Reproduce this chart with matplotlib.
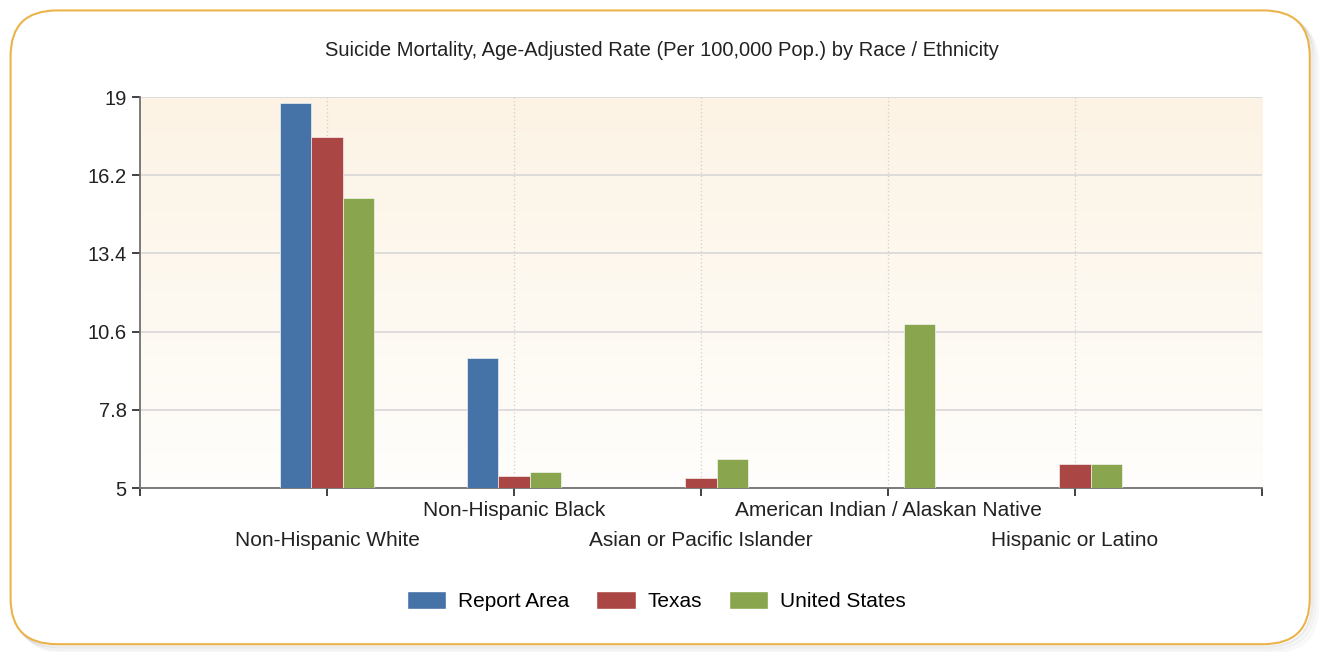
import numpy as np
import matplotlib.pyplot as plt
from matplotlib.patches import FancyBboxPatch, Patch

plt.rcParams['font.family'] = ['Liberation Sans', 'DejaVu Sans']

categories = ['Non-Hispanic White', 'Non-Hispanic Black', 'Asian or Pacific Islander',
              'American Indian / Alaskan Native', 'Hispanic or Latino']
report_area = [18.79, 9.66, np.nan, np.nan, np.nan]
texas = [17.57, 5.43, 5.36, np.nan, 5.86]
united_states = [15.38, 5.57, 6.04, 10.87, 5.86]
series_names = ['Report Area', 'Texas', 'United States']
colors = ['#4572A7', '#AA4643', '#89A54E']
yticks = [5, 7.8, 10.6, 13.4, 16.2, 19]

fig = plt.figure(figsize=(13.23, 6.52), dpi=100)
fig.patch.set_facecolor('white')

# rounded frame with a soft shadow
for i, a in enumerate([0.10, 0.07, 0.04]):
    d = 0.002 * (i + 1)
    fig.patches.append(FancyBboxPatch((0.008 + d, 0.012 - d * 2), 0.982, 0.972,
                                      boxstyle='round,pad=0,rounding_size=0.035',
                                      transform=fig.transFigure, facecolor='none',
                                      edgecolor=(0.3, 0.3, 0.3, a), lw=2, zorder=0,
                                      mutation_aspect=2.0))
fig.patches.append(FancyBboxPatch((0.008, 0.012), 0.982, 0.972,
                                  boxstyle='round,pad=0,rounding_size=0.035',
                                  transform=fig.transFigure, facecolor='white',
                                  edgecolor='#EBB34A', lw=1.5, zorder=1,
                                  mutation_aspect=2.0))

ax = fig.add_axes([0.1058, 0.2515, 0.8481, 0.5997])
ax.set_zorder(2)

# background gradient: cream at top, near white at bottom
grad = np.linspace(0, 1, 256)[:, None, None]
top = np.array([252, 243, 228]) / 255
bot = np.array([255, 254, 252]) / 255
cols = bot * (1 - grad) + top * grad
ax.imshow(cols, extent=[0, 6, 5, 19], origin='lower', aspect='auto', zorder=0)
ax.set_xlim(0, 6)
ax.set_ylim(5, 19)

x = np.arange(1, len(categories) + 1)
w = 0.166
for k, (vals, name, c) in enumerate(zip([report_area, texas, united_states], series_names, colors)):
    ax.bar(x + (k - 1) * w, np.array(vals) - 5, width=w, bottom=5, color=c,
           edgecolor='white', linewidth=0.4, zorder=3, label=name)

for y in yticks[1:]:
    ax.axhline(y, color='#D8D8D8', lw=1.2, zorder=1)
for xv in list(x) + [6]:
    ax.axvline(xv, color='#CFCFCF', lw=0.9, ls=(0, (1, 2)), zorder=1)

for s in ['top', 'right']:
    ax.spines[s].set_visible(False)
ax.spines['left'].set_color('#707070')
ax.spines['bottom'].set_color('#707070')
ax.spines['left'].set_linewidth(1.3)
ax.spines['bottom'].set_linewidth(1.3)

ax.set_yticks(yticks)
ax.set_yticklabels(['5', '7.8', '10.6', '13.4', '16.2', '19'], fontsize=14.5, color='#222222')
ax.set_xticks(range(0, 7))
ax.set_xticklabels([])
ax.tick_params(axis='both', direction='out', length=6, width=1.3, color='#333333')

for i, lab in enumerate(categories):
    yy = -0.058 if i % 2 == 1 else -0.133
    ax.text(x[i], yy, lab, transform=ax.get_xaxis_transform(), ha='center', va='center',
            fontsize=15, color='#222222')

fig.text(0.5, 0.922, 'Suicide Mortality, Age-Adjusted Rate (Per 100,000 Pop.) by Race / Ethnicity',
         ha='center', va='center', fontsize=14.5, color='#222222')

handles = [Patch(facecolor=c, edgecolor='white', label=n) for c, n in zip(colors, series_names)]
fig.legend(handles=handles, loc='center', bbox_to_anchor=(0.496, 0.078), ncol=3, frameon=False,
           fontsize=15, handlelength=1.9, handleheight=0.9, columnspacing=1.3, handletextpad=0.55)

fig.savefig('out.png', dpi=100)
